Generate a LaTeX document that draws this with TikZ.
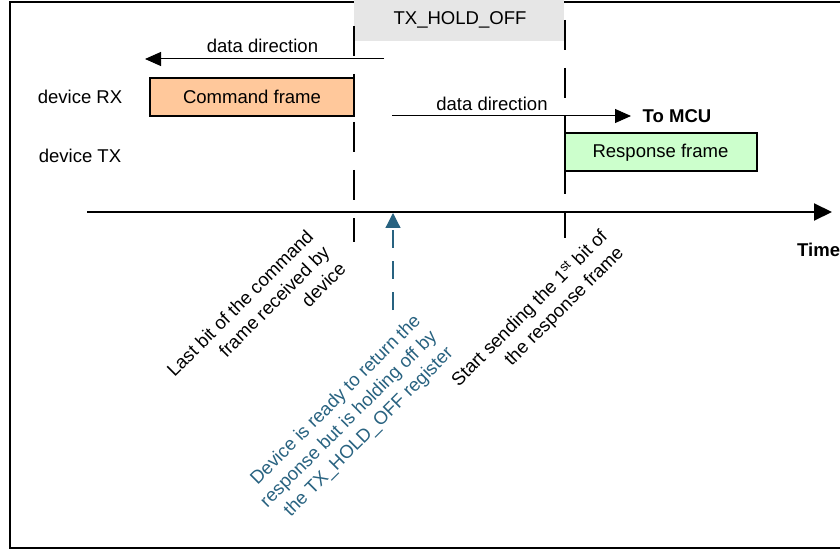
\documentclass[tikz,border=0pt]{standalone}
\usepackage{fontspec}
\setmainfont{Liberation Sans}
\usetikzlibrary{arrows.meta}
\definecolor{peach}{RGB}{255,200,155}
\definecolor{mint}{RGB}{204,255,204}
\definecolor{holdgray}{RGB}{230,230,230}
\definecolor{noteblue}{RGB}{40,98,128}
\tikzset{
  lbl/.style={inner sep=0pt, font=\fontsize{18.6}{23}\selectfont},
  boldlbl/.style={inner sep=0pt, font=\fontsize{18.6}{23}\selectfont\bfseries},
  framebox/.style={lbl, draw=black, line width=2bp, minimum height=38bp},
  guide/.style={draw=black, line width=1.4bp, dash pattern=on 30bp off 18bp},
  dirarrow/.style={draw=black, line width=1bp, -{Triangle[length=16bp,width=14bp]}},
  axisline/.style={draw=black, line width=2bp, -{Triangle[length=18bp,width=17bp]}},
  holdarrow/.style={draw=noteblue, line width=1.2bp, dash pattern=on 18bp off 13bp, -{Triangle[length=15bp,width=15bp]}},
  note/.style={lbl, align=right, rotate=45, anchor=north east},
}
\begin{document}
\begin{tikzpicture}[x=1bp,y=-1bp]
\clip (0,0) rectangle (840,550);
\useasboundingbox (0,0) rectangle (840,550);
% outer frame
\draw[line width=1.5bp] (10,2) rectangle (860,548);
% TX_HOLD_OFF band
\fill[holdgray] (354,0) rectangle (564,41);
\node[lbl] (hold) at (460,20) {TX\_HOLD\_OFF};
% row labels
\node[lbl] (rx) at (80,97) {device RX};
\node[lbl] (tx) at (80,156) {device TX};
% frames
\node[framebox, fill=peach, minimum width=204bp] (cmd) at (252,97) {Command frame};
\node[framebox, fill=mint, minimum width=192bp] (resp) at (660.5,152.5) {Response frame};
% guide lines
\coordinate (g1a) at (354,26); \coordinate (g1b) at (354,242);
\coordinate (g2a) at (565,20); \coordinate (g2b) at (565,238);
\draw[guide] (g1a) -- (g1b);
\draw[guide] (g2a) -- (g2b);
% data direction arrows
\coordinate (a1s) at (384,59); \coordinate (a1e) at (145,59);
\draw[dirarrow] (a1s) -- (a1e);
\node[lbl] (dd1) at (262.5,46) {data direction};
\coordinate (a2s) at (392,116); \coordinate (a2e) at (631,116);
\draw[dirarrow] (a2s) -- (a2e);
\node[lbl] (dd2) at (492,104) {data direction};
\node[boldlbl] (mcu) at (677,116) {To MCU};
% time axis
\coordinate (t0) at (87,212); \coordinate (t1) at (832,212);
\draw[axisline] (t0) -- (t1);
\node[boldlbl, anchor=west] (time) at (797,250) {Time};
% hold-off marker
\coordinate (hb) at (393,310); \coordinate (ht) at (393,213);
\draw[holdarrow] (hb) -- (ht);
% rotated notes
\node[note] (lastbit) at (305,228) {Last bit of the command\\frame received by\\device};
\node[note, text=noteblue] (ready) at (412,312) {Device is ready to return the\\response but is holding off by\\the TX\_HOLD\_OFF register};
\node[note] (start) at (598,227) {Start sending the 1\textsuperscript{st} bit of\\the response frame};
\end{tikzpicture}
\end{document}
